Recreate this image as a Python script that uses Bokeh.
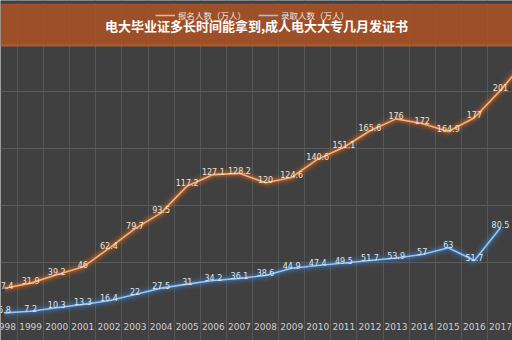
from bokeh.plotting import figure
from bokeh.models import Range1d, FixedTicker, BoxAnnotation, Label, Legend, LegendItem, ColumnDataSource
from bokeh.core.properties import value
from bokeh.embed import file_html
from bokeh.resources import INLINE

# ---- data ----
years = list(range(1998, 2019))
applicants = [27.4, 31.9, 39.2, 46, 62.4, 79.7, 93.5, 117.2, 127.1, 128.2, 120,
              124.6, 140.6, 151.1, 165.6, 176, 172, 164.9, 177, 201, 228]
admitted_years = list(range(1998, 2018))
admitted = [5.8, 7.2, 10.3, 13.3, 16.4, 22, 27.5, 31, 34.2, 36.1, 38.6,
            44.9, 47.4, 49.5, 51.7, 53.9, 57, 63, 51.7, 80.5]
label_years = list(range(1998, 2018))
title = "电大毕业证多长时间能拿到,成人电大大专几月发证书"
series_names = ["报名人数（万人）", "录取人数（万人）"]
grid_values = [50, 100, 150, 200]

# ---- layout helpers (pixel <-> data) ----
W, H = 512, 340
PX_PER_UNIT = 1.14
Y0_PX = 319.0
PX_PER_YEAR = 26.105
X0_PX = 4.0


def vy(py):
    return (Y0_PX - py) / PX_PER_UNIT


def vx(px):
    return 1998 + (px - X0_PX) / PX_PER_YEAR


BG = "#404040"
p = figure(width=W, height=H, output_backend="svg", toolbar_location=None,
           x_range=Range1d(vx(0), vx(W)), y_range=Range1d(vy(H), vy(0)),
           min_border=0, background_fill_color=BG, border_fill_color=BG,
           outline_line_color=None)
p.axis.visible = False
p.xgrid.ticker = FixedTicker(ticks=[y + 0.5 for y in label_years])
p.ygrid.ticker = FixedTicker(ticks=grid_values)
p.xgrid.grid_line_color = "#575757"
p.ygrid.grid_line_color = "#5a5a5a"
p.xgrid.grid_line_width = 1
p.ygrid.grid_line_width = 1

# ---- lines with glow ----
src_a = ColumnDataSource(dict(x=years, y=applicants))
src_b = ColumnDataSource(dict(x=admitted_years, y=admitted))

for w, a in [(12, 0.10), (8, 0.16), (5, 0.3)]:
    p.line("x", "y", source=src_a, line_color="#d2661f", line_width=w, line_alpha=a)
    p.line("x", "y", source=src_b, line_color="#3f7fc6", line_width=w, line_alpha=a)
ra = p.line("x", "y", source=src_a, line_color="#f3b283", line_width=1.6)
rb = p.line("x", "y", source=src_b, line_color="#9cc4ec", line_width=1.6)

# ---- value labels (only the years visible in the chart) ----
n = len(label_years)
p.text(x=years[:n], y=applicants[:n], text=[f"{v:g}" for v in applicants[:n]],
       text_align="center", text_baseline="middle", y_offset=-3,
       text_font=value("DejaVu Sans"), text_font_size="8px", text_color="#f4e2d2")
p.text(x=admitted_years, y=admitted, text=[f"{v:g}" for v in admitted],
       text_align="center", text_baseline="middle", y_offset=-3,
       text_font=value("DejaVu Sans"), text_font_size="8px", text_color="#dbe7f4")

# ---- year labels ----
p.text(x=label_years, y=[vy(326)] * n, text=[str(y) for y in label_years],
       text_align="center", text_baseline="middle",
       text_font=value("DejaVu Sans"), text_font_size="9px", text_color="#cfcfcf")

# ---- legend (under translucent banner) ----
legend = Legend(items=[LegendItem(label=series_names[0], renderers=[ra]),
                       LegendItem(label=series_names[1], renderers=[rb])],
                orientation="horizontal", location=(155, H - 21),
                background_fill_alpha=0, border_line_color=None,
                label_text_font="Noto Sans CJK SC", label_text_font_size="8.5px",
                label_text_color="#e8e8e8", glyph_width=20, glyph_height=10,
                padding=0, margin=0, spacing=12, label_standoff=3)
p.add_layout(legend)

# ---- banner ----
p.add_layout(BoxAnnotation(top=vy(0), bottom=vy(3), left=vx(0), right=vx(W),
                           fill_color="#3a3e45", fill_alpha=1, line_color=None))
p.add_layout(BoxAnnotation(top=vy(3), bottom=vy(45), left=vx(0), right=vx(W),
                           fill_color="#ac5223", fill_alpha=0.86, line_color=None))
p.add_layout(BoxAnnotation(top=vy(44), bottom=vy(46), left=vx(0), right=vx(W),
                           fill_color="#b8652f", fill_alpha=0.8, line_color=None))
p.add_layout(Label(x=vx(256), y=vy(25), text=title, text_align="center",
                   text_baseline="middle", text_font="Noto Sans CJK SC",
                   text_font_style="bold", text_font_size="13px", text_color="#ffffff"))

open("out.html", "w").write(file_html(p, INLINE))
